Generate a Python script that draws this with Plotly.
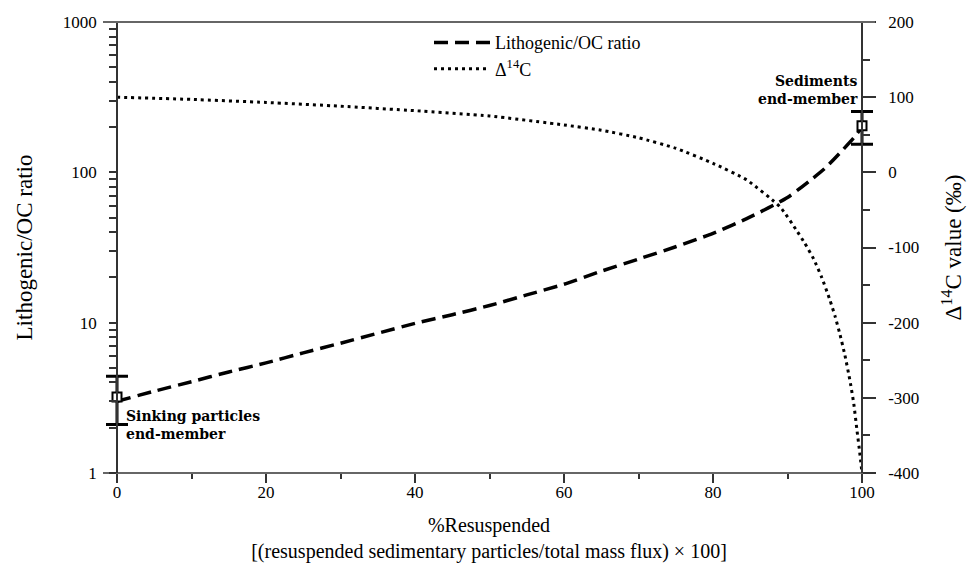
import plotly.graph_objects as go

# ---- data ----
litho_x = [0, 5, 10, 15, 20, 25, 30, 35, 40, 45, 50, 55, 60, 65, 70, 75, 80, 85, 90, 93, 95, 97, 99, 100]
litho_ratio = [3.0, 3.5, 4.05, 4.7, 5.4, 6.3, 7.3, 8.5, 9.9, 11.3, 13.0, 15.3, 18.0, 22.0, 26.5, 32.0,
               39.3, 50.5, 68, 88, 106, 134, 172, 200]

d14c_x = [0, 10, 20, 30, 40, 50, 60, 65, 70, 75, 80, 84.5, 89, 91.2, 92.3, 93.5, 94.6, 95.7, 96.4,
          97, 97.7, 98.4, 98.9, 99.3, 99.7, 100]
d14c_val = [100, 97, 93, 88, 82, 75, 63, 56, 46, 32, 12, -10, -46, -77, -94, -115, -140, -170, -192,
            -214, -243, -278, -308, -341, -373, -400]

endmember_x = [0, 100]
endmember_ratio = [3.2, 204]
endmember_err_plus = [1.2, 50]
endmember_err_minus = [1.1, 50]

x_ticks = [0, 20, 40, 60, 80, 100]
x_minor = [10, 30, 50, 70, 90]
left_ticks = [1, 2, 3, 4, 5, 6, 7, 8, 9, 10, 20, 30, 40, 50, 60, 70, 80, 90, 100,
              200, 300, 400, 500, 600, 700, 800, 900, 1000]
left_labels = {1: "1", 10: "10", 100: "100", 1000: "1000"}
right_ticks = [-400, -300, -200, -100, 0, 100, 200]
right_labels = ["-400", "-300", "-200", "-100", "0", "100", "200"]
right_minor = [-350, -250, -150, -50, 50, 150]

FONT = "Liberation Serif, Times New Roman, serif"
AX = "#333333"

# frame: plot area spans 103..875 px; axes at 0 (117 px) and 100 (862 px)
X_LO, X_HI = -1.879, 101.745
POS_L = (0 - X_LO) / (X_HI - X_LO)
POS_R = (100 - X_LO) / (X_HI - X_LO)

fig = go.Figure()

fig.add_trace(go.Scatter(
    x=litho_x, y=litho_ratio, mode="lines", name="Lithogenic/OC ratio",
    line=dict(color="black", width=3.5, dash="14px,7px", shape="spline", smoothing=0.6),
    yaxis="y"))

fig.add_trace(go.Scatter(
    x=d14c_x, y=d14c_val, mode="lines", name="\u0394<sup>14</sup>C",
    line=dict(color="black", width=3, dash="3px,4px", shape="spline", smoothing=0.5),
    yaxis="y2"))

fig.add_trace(go.Scatter(
    x=endmember_x, y=endmember_ratio, mode="markers", showlegend=False,
    marker=dict(symbol="square", size=9, color="white", line=dict(color="black", width=2)),
    error_y=dict(type="data", array=endmember_err_plus, arrayminus=endmember_err_minus,
                 color="black", thickness=3, width=11),
    cliponaxis=False, yaxis="y"))

fig.update_layout(
    width=971, height=571,
    margin=dict(l=103, r=96, t=22, b=98),
    paper_bgcolor="white", plot_bgcolor="white",
    font=dict(family=FONT, color="black", size=17),
    showlegend=True,
    legend=dict(x=0.4223, y=0.995, xanchor="left", yanchor="top",
                bgcolor="rgba(0,0,0,0)", font=dict(family=FONT, size=18),
                itemwidth=56, tracegroupgap=0),
    xaxis=dict(
        range=[X_LO, X_HI], showgrid=False, zeroline=False, automargin=False,
        showline=False,
        tickmode="array", tickvals=x_ticks, ticks="outside", ticklen=9, tickwidth=1.5,
        tickcolor=AX, tickfont=dict(size=17), ticklabelstandoff=-5,
        minor=dict(tickvals=x_minor, ticks="outside", ticklen=5, tickwidth=1.5, tickcolor=AX),
        title=dict(text="%Resuspended<br>[(resuspended sedimentary particles/total mass flux) \u00d7 100]",
                   font=dict(size=20), standoff=16)),
    yaxis=dict(
        type="log", range=[0, 3], showgrid=False, zeroline=False, automargin=False,
        anchor="free", position=POS_L,
        showline=True, linecolor=AX, linewidth=1.5,
        tickmode="array", tickvals=left_ticks,
        ticktext=[left_labels.get(v, "") for v in left_ticks],
        ticks="outside", ticklen=7, tickwidth=1.5, tickcolor=AX,
        tickfont=dict(size=17), ticklabelstandoff=9,
        title=dict(text="Lithogenic/OC ratio", font=dict(size=23), standoff=23)),
    yaxis2=dict(
        overlaying="y", side="right", anchor="free", position=POS_R, range=[-400, 200],
        automargin=False,
        showgrid=False, zeroline=False, showline=True, linecolor=AX, linewidth=1.5,
        tickmode="array", tickvals=right_ticks, ticktext=right_labels,
        ticks="outside", ticklen=13, tickwidth=1.5, tickcolor=AX,
        tickfont=dict(size=17), ticklabelstandoff=9,
        minor=dict(tickvals=right_minor, ticks="outside", ticklen=7,
                   tickwidth=1.5, tickcolor=AX),
        title=dict(text="\u0394<sup>14</sup>C value (\u2030)", font=dict(size=23), standoff=26)),
)

# frame lines (top and bottom) spanning the full plot area
fig.add_shape(type="line", xref="paper", yref="paper", x0=0, x1=1, y0=1, y1=1,
              line=dict(color="#666666", width=2.2))
fig.add_shape(type="line", xref="paper", yref="paper", x0=0, x1=1, y0=0, y1=0,
              line=dict(color=AX, width=1.5))

fig.add_annotation(x=0.9, y=(473 - 425) / 451, xref="x", yref="paper",
                   text="<b>Sinking particles<br>end-member</b>", showarrow=False,
                   xanchor="left", yanchor="middle", align="left",
                   font=dict(family="DejaVu Serif, serif", size=14))
fig.add_annotation(x=99.7, y=(473 - 89.5) / 451, xref="x", yref="paper",
                   text="<b>Sediments<br>end-member</b>", showarrow=False,
                   xanchor="right", yanchor="middle", align="right",
                   font=dict(family="DejaVu Serif, serif", size=14))

fig.write_html("out.html", config={"displayModeBar": False},
               post_script="document.body.style.margin='0px';")
